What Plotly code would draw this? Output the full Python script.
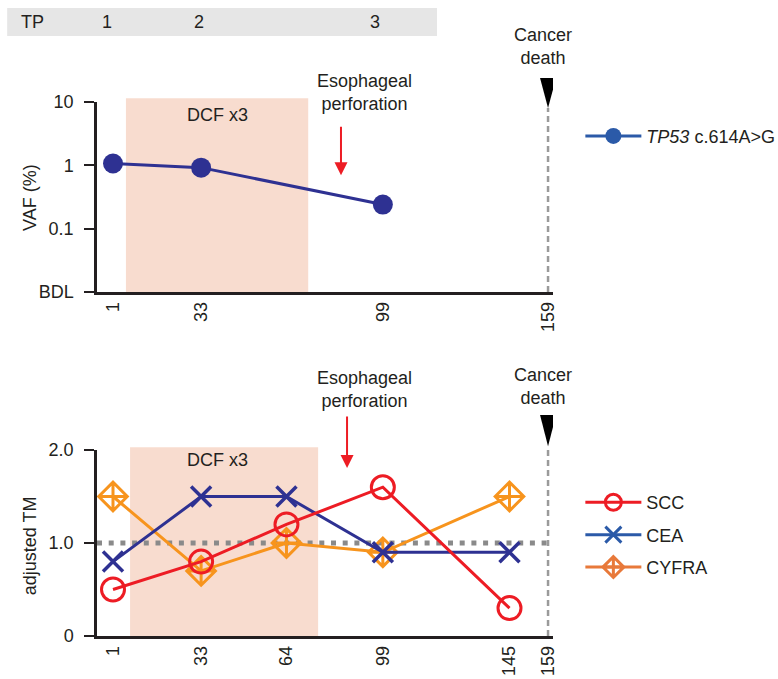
import plotly.graph_objects as go

# ---- data -------------------------------------------------------------
vaf_days = [1, 33, 99]
vaf_values = [1.07, 0.92, 0.24]          # TP53 c.614A>G, VAF %

tm_days = [1, 33, 64, 99, 145]
scc = [0.5, 0.8, 1.2, 1.6, 0.3]
cea = [0.8, 1.5, 1.5, 0.9, 0.9]
cyfra = [1.5, 0.7, 1.0, 0.9, 1.5]

vaf_ticks = [1, 33, 99, 159]
tm_ticks = [1, 33, 64, 99, 145, 159]
vaf_yvals = [10, 1, 0.1, 0.01]
vaf_ylabels = ["10", "1", "0.1", "BDL"]
tm_yvals = [0, 1.0, 2.0]
tm_ylabels = ["0", "1.0", "2.0"]

tp_labels = ["1", "2", "3"]
tp_days = [1, 33, 99]

dcf_top = (5.7, 71.9)       # chemotherapy window, upper panel
dcf_bottom = (7.2, 75.5)    # chemotherapy window, lower panel
perforation_top_day = 83.8
perforation_bottom_day = 86.0
death_day = 159

# ---- styling ------------------------------------------------------------
FONT = "Liberation Sans, Arial, sans-serif"
INK = "#231f20"
NAVY = "#2e3192"
RED = "#ed1c24"
ORANGE = "#f7941d"
PINK = "#f8dccf"
LEG_BLUE = "#2b5aa8"
LEG_ORANGE = "#e8793a"
GRAY = "#9a9a9a"
FS = 18

fig = go.Figure()

# upper panel: VAF
fig.add_trace(go.Scatter(
    x=vaf_days, y=vaf_values, mode="lines+markers",
    line=dict(color=NAVY, width=3),
    marker=dict(color=NAVY, size=20),
    xaxis="x", yaxis="y", showlegend=False, cliponaxis=False))

# lower panel: tumour markers (drawn orange, blue, red from back to front)
fig.add_trace(go.Scatter(
    x=tm_days, y=cyfra, mode="lines+markers",
    line=dict(color=ORANGE, width=3),
    marker=dict(symbol="diamond-cross-open", color=ORANGE, size=22,
                line=dict(width=3, color=ORANGE)),
    xaxis="x2", yaxis="y2", showlegend=False, cliponaxis=False))
fig.add_trace(go.Scatter(
    x=tm_days, y=cea, mode="lines+markers",
    line=dict(color=NAVY, width=3),
    marker=dict(symbol="x-thin-open", color=NAVY, size=20,
                line=dict(width=3.5, color=NAVY)),
    xaxis="x2", yaxis="y2", showlegend=False, cliponaxis=False))
fig.add_trace(go.Scatter(
    x=tm_days, y=scc, mode="lines+markers",
    line=dict(color=RED, width=3),
    marker=dict(symbol="circle-open", color=RED, size=23,
                line=dict(width=3, color=RED)),
    xaxis="x2", yaxis="y2", showlegend=False, cliponaxis=False))

# legend entries
fig.add_trace(go.Scatter(
    x=[None], y=[None], mode="lines+markers", name="<i>TP53</i> c.614A>G",
    line=dict(color=LEG_BLUE, width=3), marker=dict(color=LEG_BLUE, size=22),
    xaxis="x", yaxis="y", legend="legend"))
for name, col, sym in [("SCC", RED, "circle-open"),
                       ("CEA", LEG_BLUE, "x-thin-open"),
                       ("CYFRA", LEG_ORANGE, "diamond-cross-open")]:
    fig.add_trace(go.Scatter(
        x=[None], y=[None], mode="lines+markers", name=name, legendgroup=name,
        line=dict(color=col, width=3),
        marker=dict(symbol=sym, color=col, size=20, line=dict(width=3, color=col)),
        xaxis="x2", yaxis="y2", legend="legend2"))

xrange = [-4.81, 160.8]
axis_common = dict(showline=True, linecolor=INK, linewidth=2.5, showgrid=False,
                   zeroline=False, automargin=False,
                   tickfont=dict(family=FONT, size=FS, color=INK))

fig.update_layout(
    width=778, height=679,
    margin=dict(l=97, r=225, t=102, b=43, autoexpand=False),
    paper_bgcolor="white", plot_bgcolor="white",
    font=dict(family=FONT, size=FS, color=INK),
    xaxis=dict(domain=[0, 1], range=xrange, tickvals=vaf_ticks, ticks="",
               tickangle=-90, anchor="y", **axis_common),
    yaxis=dict(domain=[0.6442, 1], type="log", range=[-2, 1], tickvals=vaf_yvals,
               ticktext=vaf_ylabels, ticks="outside", ticklen=10, tickwidth=2,
               tickcolor=INK, ticklabelstandoff=7, anchor="x", **axis_common),
    xaxis2=dict(domain=[0, 1], range=xrange, tickvals=tm_ticks, ticks="",
                tickangle=-90, anchor="y2", **axis_common),
    yaxis2=dict(domain=[0, 0.3483], range=[0, 2.0], tickvals=tm_yvals,
                ticktext=tm_ylabels, ticks="outside", ticklen=10, tickwidth=2,
                tickcolor=INK, ticklabelstandoff=7, anchor="x2", **axis_common),
    legend=dict(x=1.060, y=0.936, xanchor="left", yanchor="middle",
                font=dict(family=FONT, size=FS, color=INK), itemwidth=56,
                bgcolor="rgba(0,0,0,0)"),
    legend2=dict(x=1.060, y=0.189, xanchor="left", yanchor="middle",
                 font=dict(family=FONT, size=FS, color=INK), itemwidth=56,
                 bgcolor="rgba(0,0,0,0)", tracegroupgap=6),
)

shapes = []
# chemotherapy shading
shapes.append(dict(type="rect", xref="x", yref="y domain", x0=dcf_top[0], x1=dcf_top[1],
                   y0=0, y1=1.02, fillcolor=PINK, line=dict(width=0), layer="below"))
shapes.append(dict(type="rect", xref="x2", yref="y2 domain", x0=dcf_bottom[0], x1=dcf_bottom[1],
                   y0=0, y1=1.015, fillcolor=PINK, line=dict(width=0), layer="below"))
# reference line at 1.0
shapes.append(dict(type="line", xref="x2 domain", yref="y2", x0=0, x1=1, y0=1.0, y1=1.0,
                   line=dict(color="#8a8a8a", width=5, dash="5px,6.7px"), layer="below"))
# death markers: dashed line plus downward triangle
for xr, yr, ytip, ytop in [("x", "y domain", 0.968, 1.126),
                           ("x2", "y2 domain", 1.02, 1.188)]:
    shapes.append(dict(type="line", xref=xr, yref=yr, x0=death_day, x1=death_day,
                       y0=0, y1=ytip, line=dict(color=GRAY, width=2.5, dash="6px,4px")))
    half = 2.9
    shapes.append(dict(type="path", xref=xr, yref=yr,
                       path=f"M {death_day - half} {ytop} L {death_day + half} {ytop} "
                            f"L {death_day} {ytip} Z",
                       fillcolor="black", line=dict(width=0)))
# TP header band
shapes.append(dict(type="rect", xref="paper", yref="paper", x0=-0.197, x1=0.7456,
                   y0=1.1236, y1=1.176, fillcolor="#e6e6e6", line=dict(width=0)))
fig.update_layout(shapes=shapes)

ann = []
def text(x, y, s, xref="x", yref="paper", **kw):
    ann.append(dict(x=x, y=y, xref=xref, yref=yref, text=s, showarrow=False,
                    xanchor="center", yanchor="middle",
                    font=dict(family=FONT, size=FS, color=INK), **kw))

text(-0.1425, 1.1498, "TP", xref="paper")
for lab, d in zip(tp_labels, tp_days):
    text(d, 1.1498, lab, xref="x")
    ann[-1]["xshift"] = {1: -6, 33: -2, 99: -8}[d]

text(38.8, 0.9757, "DCF x3")
text(38.8, 0.3296, "DCF x3", xref="x2")
text(92.5, 1.0169, "Esophageal<br>perforation")
text(92.5, 0.4625, "Esophageal<br>perforation", xref="x2")
text(157.2, 1.103, "Cancer<br>death")
text(157.2, 0.4672, "Cancer<br>death", xref="x2")
text(-0.147, 0.822, "VAF (%)", xref="paper", textangle=-90)
text(-0.147, 0.170, "adjusted TM", xref="paper", textangle=-90)

# perforation arrows (tail offset given in pixels above the head)
for xr, xv, yhead, tail_px in [("x", perforation_top_day, 0.863, -50),
                               ("x2", perforation_bottom_day, 0.3146, -53)]:
    ann.append(dict(x=xv, y=yhead, xref=xr, yref="paper", ax=0, ay=tail_px,
                    axref="pixel", ayref="pixel", text="", showarrow=True,
                    arrowhead=2, arrowsize=1.3, arrowwidth=2, arrowcolor=RED,
                    standoff=0))
fig.update_layout(annotations=ann)

fig.write_html("out.html")
